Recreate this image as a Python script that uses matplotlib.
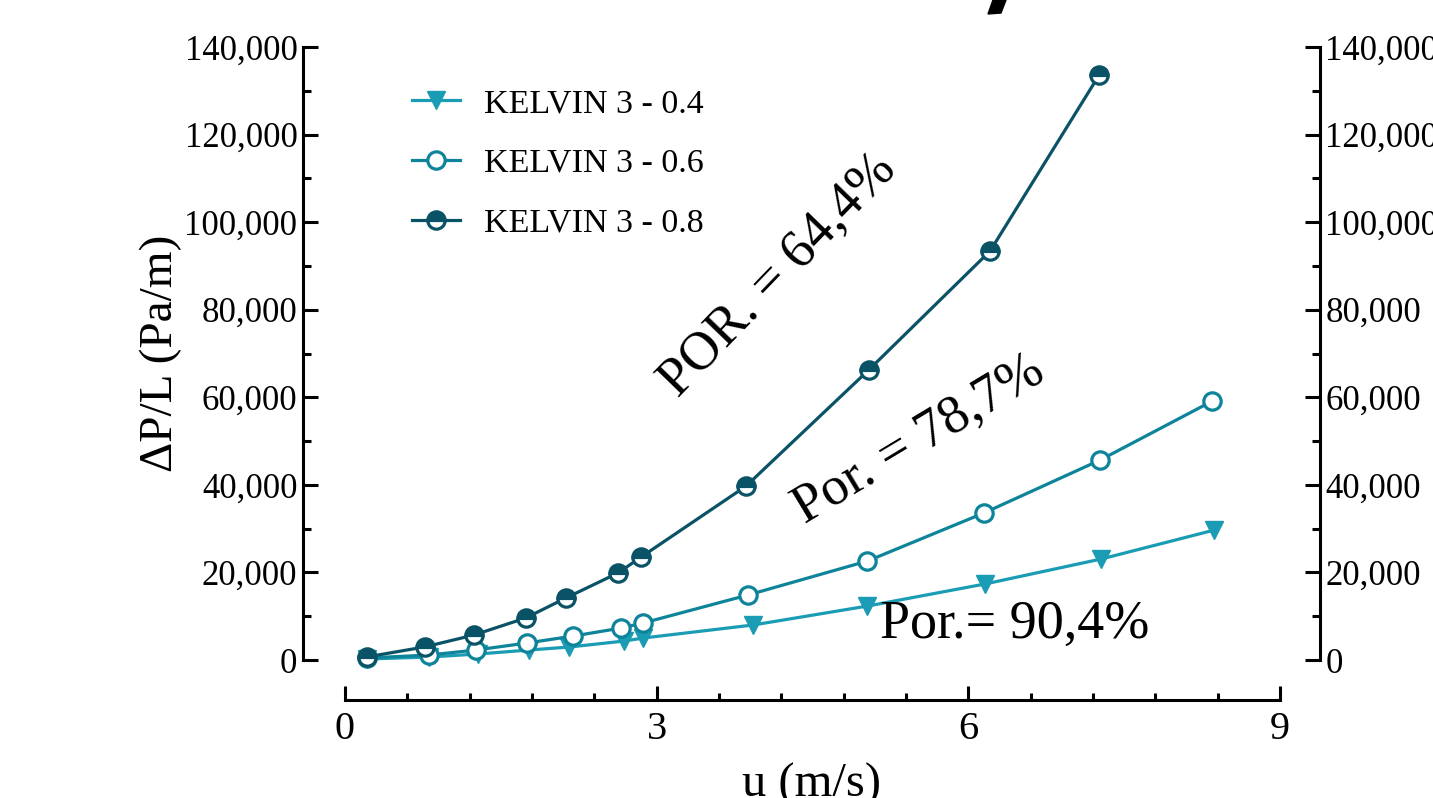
import matplotlib
matplotlib.use("Agg")
import matplotlib.pyplot as plt
from matplotlib.ticker import MultipleLocator, StrMethodFormatter
from matplotlib.patches import Polygon

plt.rcParams['font.family'] = ['Liberation Serif', 'DejaVu Serif']

# данные
u_04 = [0.21, 0.81, 1.28, 1.77, 2.16, 2.69, 2.87, 3.93, 5.03, 6.16, 7.28, 8.37]
dp_04 = [230, 690, 1370, 2280, 2970, 4340, 5020, 8000, 12330, 17360, 23070, 29690]

u_06 = [0.21, 0.81, 1.26, 1.75, 2.20, 2.66, 2.87, 3.88, 5.03, 6.15, 7.27, 8.35]
dp_06 = [460, 1140, 2280, 3880, 5480, 7310, 8450, 14850, 22610, 33570, 45680, 59150]

u_08 = [0.21, 0.77, 1.24, 1.74, 2.13, 2.63, 2.85, 3.86, 5.04, 6.21, 7.26]
dp_08 = [700, 3000, 5700, 9600, 14200, 19900, 23500, 39700, 66200, 93400, 133600]

labels = ["KELVIN 3 - 0.4", "KELVIN 3 - 0.6", "KELVIN 3 - 0.8"]
colors = ["#1a9cb5", "#0d8499", "#0a5366"]

fig = plt.figure(figsize=(14.33, 7.98), dpi=100)
ax = fig.add_axes([0.2114, 0.1729, 0.7097, 0.7682])

lw = 2.3
ms = 12.5
ax.plot(u_04, dp_04, color=colors[0], lw=lw, marker='v', ms=ms,
        label=labels[0], clip_on=False, zorder=3)
ax.plot(u_06, dp_06, color=colors[1], lw=lw, marker='o', ms=ms,
        mfc='white', mec=colors[1], mew=2.3, label=labels[1], clip_on=False, zorder=3)
ax.plot(u_08, dp_08, color=colors[2], lw=lw, marker='o', ms=ms,
        fillstyle='top', mfc=colors[2], mfcalt='white', mec=colors[2], mew=2.3,
        label=labels[2], clip_on=False, zorder=4)

ax.set_xlim(-0.404, 9.385)
ax.set_ylim(0, 140000)

ax.spines['top'].set_visible(False)
for s in ['left', 'right', 'bottom']:
    ax.spines[s].set_linewidth(2.2)
ax.spines['bottom'].set_position(('outward', 29))
ax.spines['bottom'].set_bounds(0, 9)

ax.xaxis.set_major_locator(MultipleLocator(3))
ax.xaxis.set_minor_locator(MultipleLocator(0.6))
ax.yaxis.set_major_locator(MultipleLocator(20000))
ax.yaxis.set_minor_locator(MultipleLocator(10000))
ax.yaxis.set_major_formatter(StrMethodFormatter('{x:,.0f}'))

ax.tick_params(axis='y', which='both', direction='in', left=True, right=True,
               labelleft=True, labelright=True, width=2.2)
ax.tick_params(axis='y', which='major', length=11, pad=4, labelsize=25)
ax.tick_params(axis='y', which='minor', length=6)
ax.tick_params(axis='x', which='both', direction='in', width=2.2)
ax.tick_params(axis='x', which='major', length=10, pad=8, labelsize=29)
ax.tick_params(axis='x', which='minor', length=5)

ax.set_xlabel("u (m/s)", fontsize=35, labelpad=10)
ax.set_ylabel("ΔP/L (Pa/m)", fontsize=34, labelpad=2)

ax.legend(loc='upper left', bbox_to_anchor=(0.094, 0.955), borderaxespad=0,
          frameon=False, fontsize=24.5, handlelength=1.4, handletextpad=0.7,
          labelspacing=0.85)

ax.text(4.17, 87900, "POR. = 64,4%", fontsize=39, rotation=46,
        ha='center', va='center', rotation_mode='anchor')
ax.text(5.53, 50200, "Por. = 78,7%", fontsize=39, rotation=31,
        ha='center', va='center', rotation_mode='anchor')
ax.text(6.45, 8000, "Por.= 90,4%", fontsize=39, ha='center', va='center')

# обрезанный фрагмент сверху
fig.add_artist(Polygon([(993 / 1433, 1.0), (1006 / 1433, 1.0),
                        (1001 / 1433, 1 - 13 / 798), (988 / 1433, 1 - 14 / 798)],
                       closed=True, transform=fig.transFigure, color='black'))

fig.savefig("out.png", dpi=100)
